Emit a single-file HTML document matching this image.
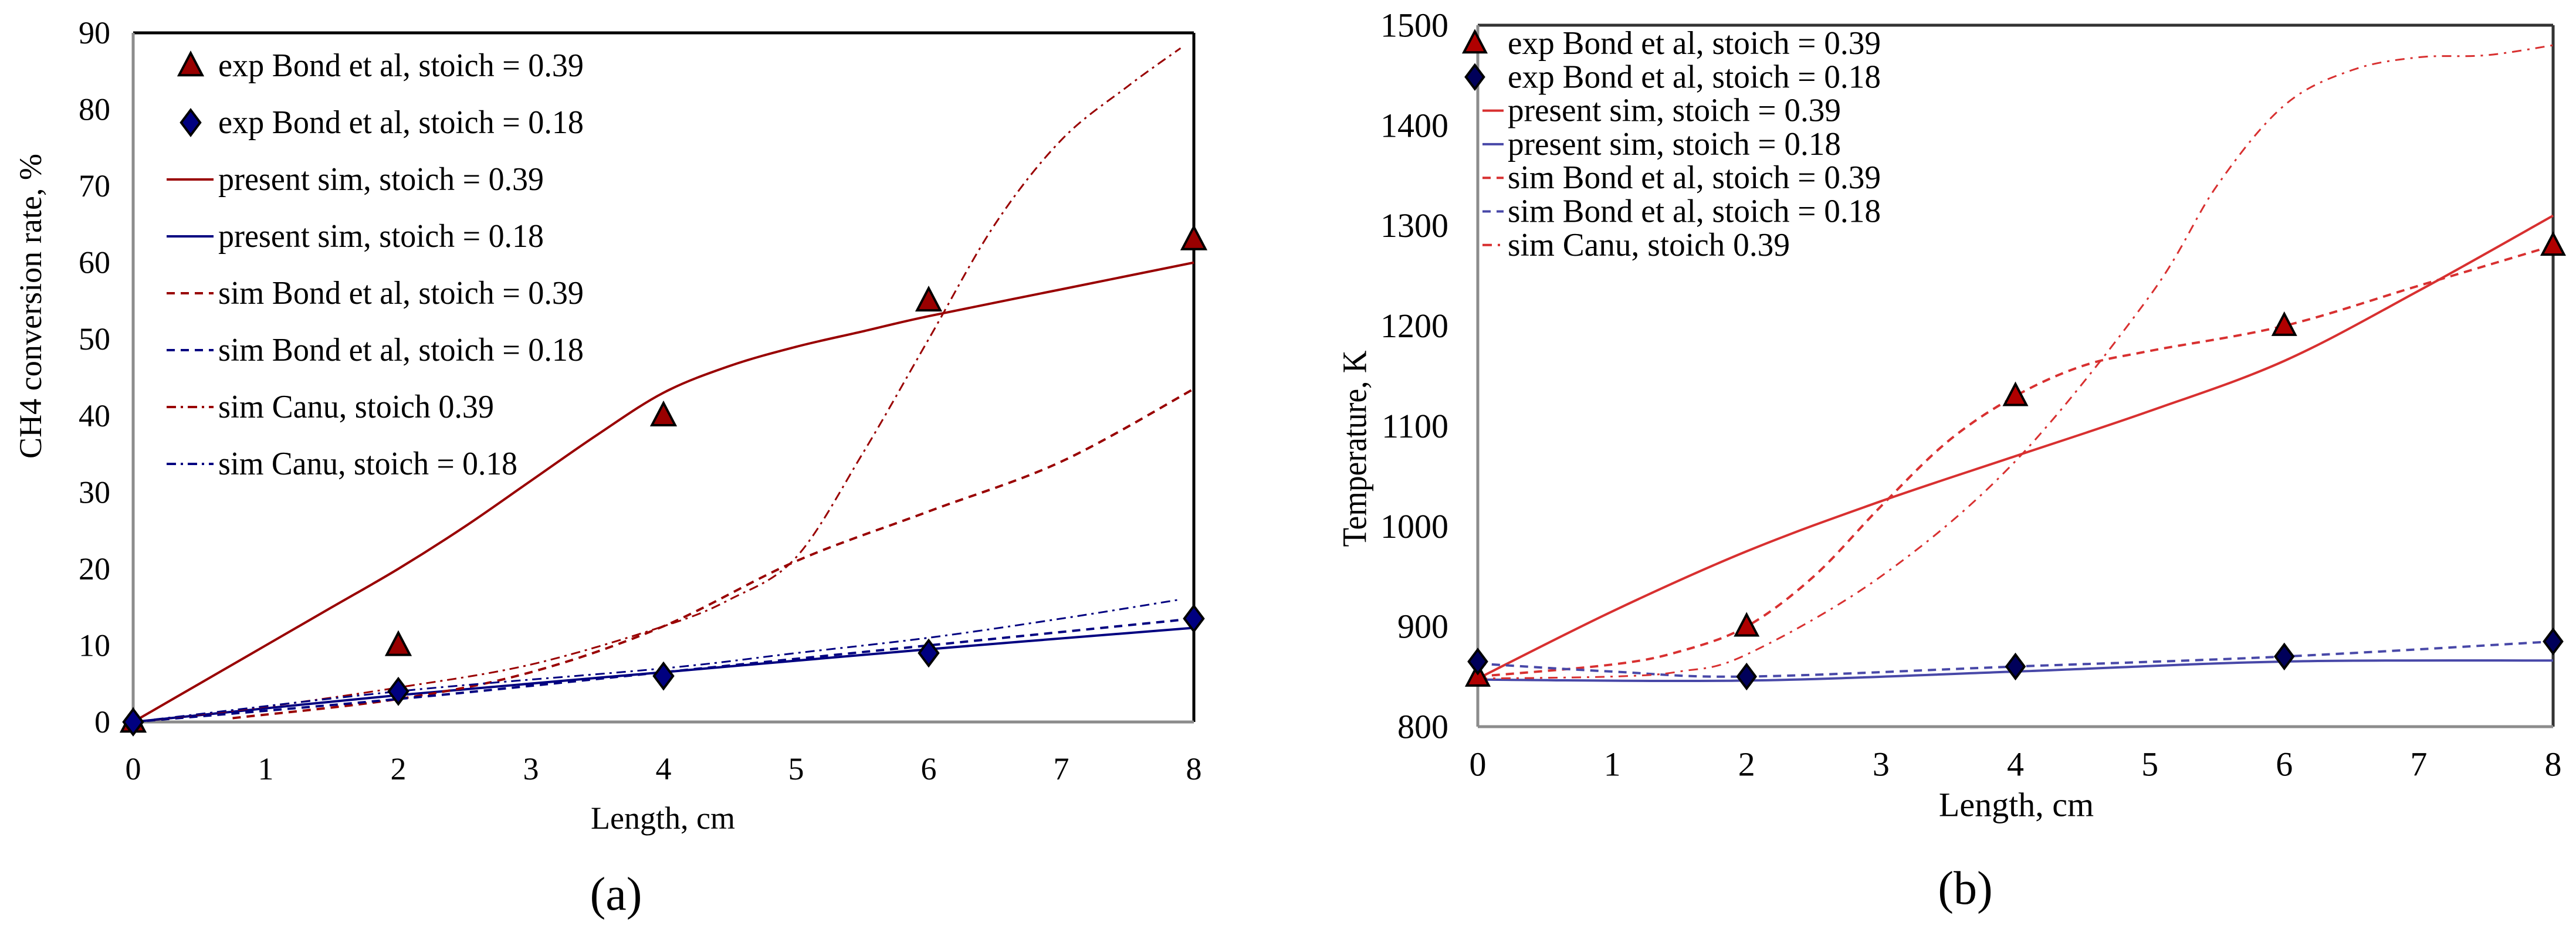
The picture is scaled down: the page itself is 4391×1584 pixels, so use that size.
<!DOCTYPE html>
<html><head><meta charset="utf-8"><style>
html,body{margin:0;padding:0;background:#fff;}
svg{display:block;font-family:"Liberation Serif",serif;}
</style></head><body>
<svg id="svg" width="4391" height="1584" viewBox="0 0 4391 1584" xmlns="http://www.w3.org/2000/svg">
<g id="chartA"></g>
<g id="chartB"></g>
</svg>
<script>
// ---- Chart A data (CH4 conversion rate, %) ----
const aExp39X = [0,2,4,6,8];
const aExp39Y = [0,10,40,55,63];
const aExp18X = [0,2,4,6,8];
const aExp18Y = [0,4,6,9,13.5];
const aPres39X = [0,0.5,1,1.5,2,2.5,3,3.5,4,4.5,5,5.5,6,7,8];
const aPres39Y = [0,5,10,15,20,25.5,31.5,37.5,43,46.5,49,51,53,56.5,60];
const aPres18X = [0,2,4,6,8];
const aPres18Y = [0,3.5,6.5,9.5,12.3];
const aBond39X = [0.75,2,3,4,5,6,7,8];
const aBond39Y = [0.5,3,6.5,12.5,21,27.5,34,43.5];
const aBond18X = [0,2,4,6,8];
const aBond18Y = [0,3,6.5,10,13.5];
const aCanu39X = [0,1,2,3,4,4.5,5,5.5,6,6.5,7,7.5,7.9];
const aCanu39Y = [0,2,4.5,7.5,12.5,16,21.5,35,50,65,76,83,88];
const aCanu18X = [0,2,4,5,6,7,7.9];
const aCanu18Y = [0,4,7,9,11,13.5,16];
const aXTicks = [0,1,2,3,4,5,6,7,8];
const aYTicks = [0,10,20,30,40,50,60,70,80,90];
// ---- Chart B data (Temperature, K) ----
const bExp39X = [0,2,4,6,8];
const bExp39Y = [850,900,1130,1200,1280];
const bExp18X = [0,2,4,6,8];
const bExp18Y = [865,850,860,870,885];
const bPres39X = [0,1,2,3,4,5,6,7,8];
const bPres39Y = [848,915,975,1025,1070,1115,1165,1235,1310];
const bPres18X = [0,2,4,6,8];
const bPres18Y = [847,846,855,865,866];
const bBond39X = [0,1,1.5,2,2.5,3,3.5,4,4.5,5,6,7,8];
const bBond39Y = [850,862,875,900,950,1020,1085,1130,1160,1175,1200,1240,1280];
const bBond18X = [0,1,2,4,6,8];
const bBond18Y = [863,855,850,860,870,885];
const bCanu39X = [0,1,1.5,2,3,4,5,5.5,6,6.5,7,7.5,8];
const bCanu39Y = [848,850,855,872,950,1065,1230,1340,1420,1455,1468,1470,1480];
const bXTicks = [0,1,2,3,4,5,6,7,8];
const bYTicks = [800,900,1000,1100,1200,1300,1400,1500];

const NS='http://www.w3.org/2000/svg';
function mk(parent,tag,attrs,text){const e=document.createElementNS(NS,tag);for(const k in attrs)e.setAttribute(k,attrs[k]);if(text!==undefined)e.textContent=text;parent.appendChild(e);return e;}
function smooth(pts){
  if(pts.length<2)return '';
  let d='M'+pts[0][0]+','+pts[0][1];
  for(let i=0;i<pts.length-1;i++){
    const p0=pts[i-1]||pts[i],p1=pts[i],p2=pts[i+1],p3=pts[i+2]||p2;
    const c1=[p1[0]+(p2[0]-p0[0])/6,p1[1]+(p2[1]-p0[1])/6];
    const c2=[p2[0]-(p3[0]-p1[0])/6,p2[1]-(p3[1]-p1[1])/6];
    d+=' C'+c1[0]+','+c1[1]+' '+c2[0]+','+c2[1]+' '+p2[0]+','+p2[1];
  }
  return d;
}
function tri(g,x,y,s,fill){return mk(g,'path',{d:`M${x},${y-s*0.6} L${x+s*0.55},${y+s*0.45} L${x-s*0.55},${y+s*0.45} Z`,fill:fill,stroke:'#000','stroke-width':4});}
function dia(g,x,y,s,fill){return mk(g,'path',{d:`M${x},${y-s*0.6} L${x+s*0.45},${y} L${x},${y+s*0.6} L${x-s*0.45},${y} Z`,fill:fill,stroke:'#000','stroke-width':4});}

function buildChart(root,cfg){
  const X=v=>cfg.x0+(v-cfg.xmin)/(cfg.xmax-cfg.xmin)*(cfg.x1-cfg.x0);
  const Y=v=>cfg.y0-(v-cfg.ymin)/(cfg.ymax-cfg.ymin)*(cfg.y0-cfg.y1);
  const fr=mk(root,'g',{});
  
  
  mk(fr,'line',{x1:cfg.x0,y1:cfg.y1,x2:cfg.x1,y2:cfg.y1,stroke:cfg.frameCol,'stroke-width':5});
  mk(fr,'line',{x1:cfg.x1,y1:cfg.y1,x2:cfg.x1,y2:cfg.y0,stroke:cfg.frameCol,'stroke-width':5});
  mk(fr,'line',{x1:cfg.x0,y1:cfg.y1,x2:cfg.x0,y2:cfg.y0,stroke:'#8c8c8c','stroke-width':5});
  mk(fr,'line',{x1:cfg.x0,y1:cfg.y0,x2:cfg.x1,y2:cfg.y0,stroke:'#8c8c8c','stroke-width':5});
  const tg=mk(root,'g',{'font-size':cfg.tickFont,fill:'#000'});
  
  
  cfg.xTicks.forEach(t=>{const e=mk(tg,'text',{x:X(t),y:cfg.xTickY,'text-anchor':'middle','dominant-baseline':'central'},String(t));
    
    });
  cfg.yTicks.forEach(t=>{const e=mk(tg,'text',{x:cfg.yTickX,y:Y(t),'text-anchor':'end','dominant-baseline':'central'},String(t));
    
    });
  const xt=mk(root,'text',{x:cfg.xTitle[0],y:cfg.xTitle[1],'text-anchor':'middle','dominant-baseline':'central','font-size':cfg.titleFont},'Length, cm');
  
  
  const yt=mk(root,'text',{x:0,y:0,'text-anchor':'middle','dominant-baseline':'central','font-size':cfg.titleFont,transform:`translate(${cfg.yTitle[0]},${cfg.yTitle[1]}) rotate(-90)`,textLength:cfg.yTitleLen,lengthAdjust:'spacingAndGlyphs'},cfg.yTitleText);
  
  
  const pl=mk(root,'text',{x:cfg.panel[0],y:cfg.panel[1],'text-anchor':'middle','dominant-baseline':'central','font-size':80},cfg.panelText);
  
  
  cfg.lines.forEach(s=>{
    const pts=s.x.map((v,i)=>[X(v),Y(s.y[i])]);
    const p=mk(root,'path',{d:smooth(pts),fill:'none',stroke:s.col,'stroke-width':s.w||4,'stroke-dasharray':s.dash||'none'});
    
    
  });
  cfg.markers.forEach(s=>{
    const g=mk(root,'g',{});
    
    
    s.x.forEach((v,i)=>{const m=(s.shape==='tri'?tri:dia)(g,X(v),Y(s.y[i]),cfg.mSize,s.col);
      
      });
  });
  const lg=mk(root,'g',{'font-size':cfg.legFont});
  
  
  cfg.legend.forEach((L,i)=>{
    const y=cfg.legY0+i*cfg.legDy;
    const e=mk(lg,'g',{});
    
    
    if(L.shape==='tri')tri(e,cfg.legMX,y,cfg.mSize,L.col);
    else if(L.shape==='dia')dia(e,cfg.legMX,y,cfg.mSize,L.col);
    else mk(e,'line',{x1:cfg.legL0,y1:y,x2:cfg.legL1,y2:y,stroke:L.col,'stroke-width':4,'stroke-dasharray':L.dash||'none'});
    mk(e,'text',{x:cfg.legTX,y:y,'dominant-baseline':'central',textLength:L.len,lengthAdjust:'spacingAndGlyphs'},L.t);
  });
}

const R1='#990000',N1='#000080';
buildChart(document.getElementById('chartA'),{
  x0:227,x1:2035,y0:1231,y1:56,xmin:0,xmax:8,ymin:0,ymax:90,frameCol:'#000',
  xTicks:aXTicks,yTicks:aYTicks,tickFont:54,xTickY:1311,yTickX:188,
  titleFont:54,xTitle:[1130,1395],yTitle:[52,522],yTitleLen:520,yTitleText:'CH4 conversion rate, %',
  panel:[1050,1525],panelText:'(a)',mSize:36,
  lines:[
    {name:'present-sim-039',x:aPres39X,y:aPres39Y,col:R1},
    {name:'present-sim-018',x:aPres18X,y:aPres18Y,col:N1},
    {name:'sim-bond-039',x:aBond39X,y:aBond39Y,col:R1,dash:'14 10'},
    {name:'sim-bond-018',x:aBond18X,y:aBond18Y,col:N1,dash:'14 10'},
    {name:'sim-canu-039',x:aCanu39X,y:aCanu39Y,col:R1,dash:'16 8 4 8',w:3},
    {name:'sim-canu-018',x:aCanu18X,y:aCanu18Y,col:N1,dash:'16 8 4 8',w:3}],
  markers:[
    {name:'exp-bond-039',x:aExp39X,y:aExp39Y,col:R1,shape:'tri'},
    {name:'exp-bond-018',x:aExp18X,y:aExp18Y,col:N1,shape:'dia'}],
  legFont:56,legY0:112,legDy:97,legMX:325,legL0:284,legL1:364,legTX:372,
  legend:[
    {t:'exp Bond et al, stoich = 0.39',shape:'tri',col:R1,len:623},
    {t:'exp Bond et al, stoich = 0.18',shape:'dia',col:N1,len:623},
    {t:'present sim, stoich = 0.39',col:R1,len:555},
    {t:'present sim, stoich = 0.18',col:N1,len:555},
    {t:'sim Bond et al, stoich = 0.39',col:R1,dash:'14 10',len:623},
    {t:'sim Bond et al, stoich = 0.18',col:N1,dash:'14 10',len:623},
    {t:'sim Canu, stoich 0.39',col:R1,dash:'16 8 4 8',len:470},
    {t:'sim Canu, stoich = 0.18',col:N1,dash:'16 8 4 8',len:510}]
});
const R2='#d83030',N2='#4848a8',RM='#b00000',NM='#00005a';
buildChart(document.getElementById('chartB'),{
  x0:2519,x1:4352,y0:1239,y1:43,xmin:0,xmax:8,ymin:800,ymax:1500,frameCol:'#333',
  xTicks:bXTicks,yTicks:bYTicks,tickFont:58,xTickY:1303,yTickX:2469,
  titleFont:58,xTitle:[3437,1372],yTitle:[2309,765],yTitleLen:335,yTitleText:'Temperature, K',
  panel:[3350,1515],panelText:'(b)',mSize:34,
  lines:[
    {name:'present-sim-039',x:bPres39X,y:bPres39Y,col:R2},
    {name:'present-sim-018',x:bPres18X,y:bPres18Y,col:N2},
    {name:'sim-bond-039',x:bBond39X,y:bBond39Y,col:R2,dash:'14 10'},
    {name:'sim-bond-018',x:bBond18X,y:bBond18Y,col:N2,dash:'14 10'},
    {name:'sim-canu-039',x:bCanu39X,y:bCanu39Y,col:R2,dash:'16 10 4 10',w:3}],
  markers:[
    {name:'exp-bond-039',x:bExp39X,y:bExp39Y,col:RM,shape:'tri'},
    {name:'exp-bond-018',x:bExp18X,y:bExp18Y,col:NM,shape:'dia'}],
  legFont:56,legY0:74,legDy:57.3,legMX:2514,legL0:2527,legL1:2563,legTX:2570,
  legend:[
    {t:'exp Bond et al, stoich = 0.39',shape:'tri',col:RM,len:636},
    {t:'exp Bond et al, stoich = 0.18',shape:'dia',col:NM,len:636},
    {t:'present sim, stoich = 0.39',col:R2,len:568},
    {t:'present sim, stoich = 0.18',col:N2,len:568},
    {t:'sim Bond et al, stoich = 0.39',col:R2,dash:'14 10',len:636},
    {t:'sim Bond et al, stoich = 0.18',col:N2,dash:'14 10',len:636},
    {t:'sim Canu, stoich 0.39',col:R2,dash:'16 10 4 10',len:481}]
});
</script>
</body></html>
